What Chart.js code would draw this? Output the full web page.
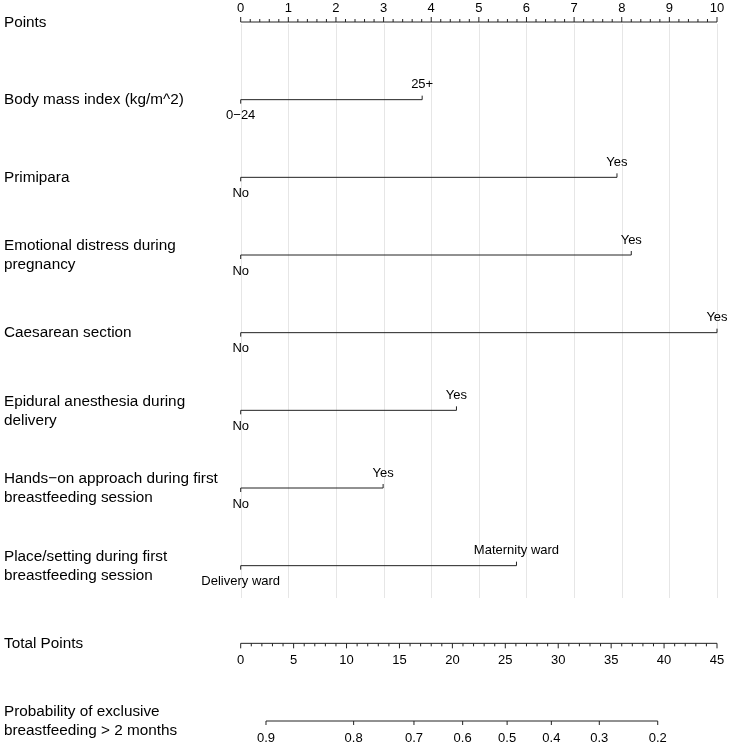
<!DOCTYPE html>
<html>
<head>
<meta charset="utf-8">
<script src="https://cdn.jsdelivr.net/npm/chart.js@4.4.1/dist/chart.umd.min.js"></script>
<style>
  html, body { margin: 0; padding: 0; background: #fff; }
  canvas { display: block; }
</style>
</head>
<body>
<canvas id="nomogram" width="729" height="744"></canvas>
<script>
// nomogram data
const rowLabels = [
  ["Points"],
  ["Body mass index (kg/m^2)"],
  ["Primipara"],
  ["Emotional distress during", "pregnancy"],
  ["Caesarean section"],
  ["Epidural anesthesia during", "delivery"],
  ["Hands\u2212on approach during first", "breastfeeding session"],
  ["Place/setting during first", "breastfeeding session"],
  ["Total Points"],
  ["Probability of exclusive", "breastfeeding > 2 months"]
];
const lowLevels = ["0\u221224", "No", "No", "No", "No", "No", "Delivery ward"];
const highLevels = ["25+", "Yes", "Yes", "Yes", "Yes", "Yes", "Maternity ward"];
const highPoints = [3.81, 7.90, 8.20, 10, 4.53, 2.99, 5.79];
const pointTicks = [0, 1, 2, 3, 4, 5, 6, 7, 8, 9, 10];
const totalTicks = [0, 5, 10, 15, 20, 25, 30, 35, 40, 45];
const probTicks = ["0.9", "0.8", "0.7", "0.6", "0.5", "0.4", "0.3", "0.2"];
const probAtTotal = [2.39, 10.67, 16.37, 20.97, 25.17, 29.35, 33.88, 39.4];

document.addEventListener("DOMContentLoaded", () => {
  const ctx = document.getElementById("nomogram").getContext("2d");
  const ink = "#222";
  const fontFamily = "'Liberation Sans', Arial, Helvetica, sans-serif";

  // segment lines for each predictor + the three axes
  const datasets = [];
  datasets.push({ data: [{ x: 0, y: 0 }, { x: 10, y: 0 }], xAxisID: "x" });
  highPoints.forEach((v, i) => {
    datasets.push({ data: [{ x: 0, y: i + 1 }, { x: v, y: i + 1 }], xAxisID: "x" });
  });
  datasets.push({ data: [{ x: 0, y: 8 }, { x: 45, y: 8 }], xAxisID: "xt" });
  datasets.push({
    data: [{ x: probAtTotal[0], y: 9 }, { x: probAtTotal[probAtTotal.length - 1], y: 9 }],
    xAxisID: "xt"
  });
  datasets.forEach((d) => {
    d.borderColor = ink;
    d.borderWidth = 1;
    d.pointRadius = 0;
    d.clip = false;
    d.tension = 0;
  });

  // grid, ticks and text
  const nomogramPlugin = {
    id: "nomogramText",
    beforeDatasetsDraw(chart) {
      const x = chart.scales.x, y = chart.scales.y;
      const c = chart.ctx;
      c.save();
      c.strokeStyle = "#e6e6e6";
      c.lineWidth = 1;
      pointTicks.forEach((t) => {
        const px = Math.round(x.getPixelForValue(t)) + 0.5;
        c.beginPath();
        c.moveTo(px, y.getPixelForValue(0) + 2);
        c.lineTo(px, 598);
        c.stroke();
      });
      c.restore();
    },
    afterDatasetsDraw(chart) {
      const x = chart.scales.x, xt = chart.scales.xt, y = chart.scales.y;
      const c = chart.ctx;
      c.save();
      c.strokeStyle = ink;
      c.fillStyle = "#000";
      c.lineWidth = 1;
      c.textBaseline = "middle";

      const tick = (px, py, len) => {
        c.beginPath();
        c.moveTo(px, py);
        c.lineTo(px, py + len);
        c.stroke();
      };

      // row labels on the left
      c.font = "15.3px " + fontFamily;
      c.textAlign = "left";
      rowLabels.forEach((lines, i) => {
        const py = y.getPixelForValue(i);
        const n = lines.length;
        lines.forEach((s, j) => {
          c.fillText(s, 4, py + 0.5 + (j - (n - 1) / 2) * 19);
        });
      });

      c.font = "13px " + fontFamily;
      c.textAlign = "center";

      // Points axis: ticks up, labels above
      const y0 = y.getPixelForValue(0);
      for (let k = 0; k <= 50; k++) {
        const v = k / 5;
        const major = k % 5 === 0;
        tick(x.getPixelForValue(v), y0, major ? -5 : -3);
      }
      pointTicks.forEach((t) => c.fillText(String(t), x.getPixelForValue(t), y0 - 14));

      // predictor segments: end ticks and level labels
      highPoints.forEach((v, i) => {
        const py = y.getPixelForValue(i + 1);
        tick(x.getPixelForValue(0), py, 4);
        tick(x.getPixelForValue(v), py, -4);
        c.fillText(lowLevels[i], x.getPixelForValue(0), py + 16);
        c.fillText(highLevels[i], x.getPixelForValue(v), py - 15);
      });

      // Total Points axis: ticks down, labels below
      const y8 = y.getPixelForValue(8);
      for (let v = 0; v <= 45; v++) {
        tick(xt.getPixelForValue(v), y8, v % 5 === 0 ? 5 : 3);
      }
      totalTicks.forEach((t) => c.fillText(String(t), xt.getPixelForValue(t), y8 + 17));

      // Probability axis
      const y9 = y.getPixelForValue(9);
      probAtTotal.forEach((v, i) => {
        tick(xt.getPixelForValue(v), y9, 4);
        c.fillText(probTicks[i], xt.getPixelForValue(v), y9 + 17);
      });

      c.restore();
    }
  };

  new Chart(ctx, {
    type: "line",
    data: { datasets: datasets },
    options: {
      responsive: false,
      animation: false,
      devicePixelRatio: 1,
      layout: { padding: { left: 240.7, right: 12, top: 22, bottom: 23 } },
      plugins: { legend: { display: false }, tooltip: { enabled: false } },
      scales: {
        x: { type: "linear", min: 0, max: 10, display: false },
        xt: { type: "linear", min: 0, max: 45, display: false },
        y: { type: "linear", min: 0, max: 9, reverse: true, display: false }
      }
    },
    plugins: [nomogramPlugin]
  });
});
</script>
</body>
</html>
